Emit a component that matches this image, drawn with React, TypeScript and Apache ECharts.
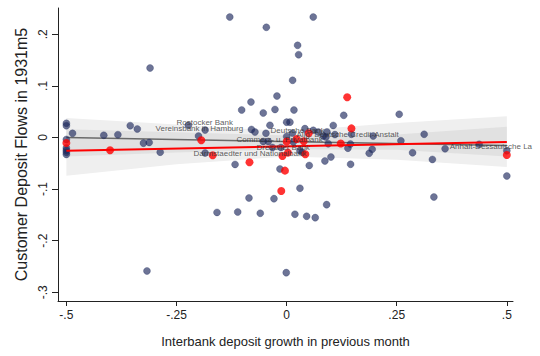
import React, { useEffect, useRef } from "react";
import * as echarts from "echarts";

const FONT = '"Liberation Sans", Arial, Helvetica, sans-serif';

const xTicks = [-0.5, -0.25, 0, 0.25, 0.5];
const xTickLabels = ["-.5", "-.25", "0", ".25", ".5"];
const yTicks = [-0.3, -0.2, -0.1, 0, 0.1, 0.2];
const yTickLabels = ["-.3", "-.2", "-.1", "0", ".1", ".2"];

const xTitle = "Interbank deposit growth in previous month";
const yTitle = "Customer Deposit Flows in 1931m5";

// all banks (navy markers)
const navyPts: [number, number][] = [
  [-0.5, 0.0275], [-0.5, 0.0229], [-0.5, -0.0039], [-0.5, -0.0203], [-0.5, -0.0248],
  [-0.5, -0.0287], [-0.5, -0.0329], [-0.486, 0.0081], [-0.415, 0.0043], [-0.383, 0.0054],
  [-0.355, 0.0229], [-0.339, 0.0165], [-0.325, -0.011], [-0.312, -0.0097], [-0.287, -0.0285],
  [-0.31, 0.1347], [-0.317, -0.2587], [-0.223, 0.0236], [-0.2, 0.0029], [-0.185, 0.0145],
  [-0.185, -0.03], [-0.117, -0.0523], [-0.129, 0.2335], [0.0605, 0.2335], [-0.046, 0.2136],
  [0.025, 0.1787], [0.0273, 0.1605], [0.0137, 0.1109], [-0.0219, 0.0804], [-0.0809, 0.0688],
  [-0.102, 0.0533], [-0.053, 0.0475], [-0.0264, 0.0543], [0.0167, 0.0533], [-0.0378, 0.0236],
  [0.0001, 0.0297], [0.0076, 0.0297], [-0.0798, 0.0155], [-0.0718, 0.0107], [-0.0469, 0.0081],
  [-0.053, -0.0078], [-0.0416, -0.0078], [-0.0321, -0.0194], [-0.0128, -0.0194], [0.0001, 0.0019],
  [0.0133, 0.0087], [0.0151, -0.0087], [0.0303, -0.0256], [0.0355, -0.0287], [0.0416, 0.0171],
  [0.0605, 0.014], [0.0718, 0.0107], [0.0916, 0.0107], [0.0832, 0.0029], [0.0893, 0.001],
  [0.1097, 0.0056], [0.1059, 0.0233], [0.1297, 0.043], [0.1472, 0.0062], [0.0945, -0.012],
  [0.1449, -0.0126], [0.1392, -0.0207], [0.1006, -0.0378], [0.087, -0.0455], [0.1453, -0.0519],
  [0.1966, 0.0029], [0.1943, -0.0229], [0.1875, -0.0306], [0.2556, 0.045], [0.2595, -0.0064],
  [0.286, -0.0295], [0.3123, 0.0062], [0.331, -0.0426], [0.3598, -0.0217], [0.4371, -0.0132],
  [0.5, -0.0256], [0.5, -0.0746], [0.3344, -0.1153], [0.0514, -0.0543], [-0.0151, -0.061],
  [0.0303, -0.0984], [-0.0854, -0.1172], [-0.0287, -0.1186], [0.0909, -0.1302], [-0.158, -0.1453],
  [-0.111, -0.1444], [-0.0598, -0.1469], [0.0189, -0.1488], [0.0455, -0.1527], [0.065, -0.1554],
  [-0.0008, -0.262],
];

// highlighted banks (red markers)
const redPts: [number, number][] = [
  [-0.5, -0.0107], [-0.4008, -0.0248], [-0.1937, -0.0054], [-0.1678, -0.0345], [-0.0843, -0.0479],
  [0.0001, -0.0078], [0.0228, -0.0029], [0.0389, -0.0074], [0.0503, 0.0081], [0.0031, -0.0293],
  [-0.0094, -0.0359], [0.0425, -0.0326], [-0.0037, -0.0643], [-0.0121, -0.1037], [0.1376, 0.0779],
  [0.1472, 0.0176], [0.1229, -0.0116], [0.5, -0.0339],
];

// fitted lines (endpoints)
const fitX = [-0.5, 0.5];
const greyFitY = [0.0, -0.0155];
const redFitY = [-0.0258, -0.0089];

// confidence bands
const bandX = [-0.5, -0.25, 0, 0.25, 0.5];
const outerLow = [-0.074, -0.052, -0.037, -0.043, -0.057];
const outerHigh = [0.038, 0.025, 0.012, 0.028, 0.041];
const innerLow = [-0.037, -0.029, -0.023, -0.024, -0.037];
const innerHigh = [0.016, 0.01, 0.004, 0.006, 0.021];

// bank labels
const labelNames = [
  "Rostocker Bank",
  "Vereinsbank in Hamburg",
  "Deutsche Bank",
  "Allg. Deutsche Credit-Anstalt",
  "Commerz- u. Privatbank",
  "Dresdner Bank",
  "Darmstaedter und Nationalbank",
  "Anhalt-Dessauische La",
];
const labelX = [-0.2511, -0.2987, -0.0378, 0.0212, -0.1149, -0.0695, -0.2125, 0.3693];
const labelY = [0.0295, 0.0171, 0.0132, 0.0062, -0.0035, -0.0198, -0.032, -0.0171];

function tickLabel(v: number, ticks: number[], labels: string[]) {
  let best = 0;
  for (let i = 1; i < ticks.length; i++) {
    if (Math.abs(ticks[i] - v) < Math.abs(ticks[best] - v)) best = i;
  }
  return labels[best];
}

function bandSeries(low: number[], high: number[], color: string) {
  return {
    type: "custom",
    data: [[bandX[0], low[0]]],
    silent: true,
    z: 1,
    renderItem: (_params: any, api: any) => {
      const pts: number[][] = [];
      for (let i = 0; i < bandX.length; i++) pts.push(api.coord([bandX[i], high[i]]));
      for (let i = bandX.length - 1; i >= 0; i--) pts.push(api.coord([bandX[i], low[i]]));
      return {
        type: "polygon",
        shape: { points: pts },
        style: { fill: color, stroke: "none" },
        silent: true,
      };
    },
  };
}

export default function App() {
  const ref = useRef<HTMLDivElement>(null);
  useEffect(() => {
    document.body.style.margin = "0";
    const chart = echarts.init(ref.current!, null, { renderer: "svg" });
    const axisColor = "#222";
    const option: any = {
      animation: false,
      backgroundColor: "#ffffff",
      textStyle: { fontFamily: FONT },
      grid: { left: 58, right: 27, top: 8, bottom: 55, containLabel: false },
      xAxis: {
        type: "value",
        min: -0.519,
        max: 0.514,
        name: xTitle,
        nameLocation: "middle",
        nameGap: 34,
        nameTextStyle: { fontSize: 13, color: "#222", fontFamily: FONT },
        axisLine: { show: true, onZero: false, lineStyle: { color: axisColor, width: 1 } },
        axisTick: { show: true, length: 5, customValues: xTicks, lineStyle: { color: axisColor } },
        axisLabel: {
          show: true,
          customValues: xTicks,
          margin: 8,
          fontSize: 12,
          color: "#222",
          fontFamily: FONT,
          formatter: (v: number) => tickLabel(v, xTicks, xTickLabels),
        },
        splitLine: { show: false },
      },
      yAxis: {
        type: "value",
        min: -0.317,
        max: 0.251,
        name: yTitle,
        nameLocation: "middle",
        nameGap: 27,
        nameTextStyle: { fontSize: 16, color: "#222", fontFamily: FONT },
        axisLine: { show: true, onZero: false, lineStyle: { color: axisColor, width: 1 } },
        axisTick: { show: true, length: 6, customValues: yTicks, lineStyle: { color: axisColor } },
        axisLabel: {
          show: true,
          customValues: yTicks,
          rotate: 90,
          margin: 9,
          fontSize: 12,
          color: "#222",
          fontFamily: FONT,
          formatter: (v: number) => tickLabel(v, yTicks, yTickLabels),
        },
        splitLine: { show: false },
      },
      series: [
        bandSeries(outerLow, outerHigh, "#efefef"),
        bandSeries(innerLow, innerHigh, "#e1e1e1"),
        {
          type: "line",
          data: fitX.map((x, i) => [x, greyFitY[i]]),
          symbol: "none",
          lineStyle: { color: "#6a6a6a", width: 1.5 },
          silent: true,
          z: 2,
        },
        {
          type: "scatter",
          data: navyPts,
          symbol: "circle",
          symbolSize: 7,
          itemStyle: {
            color: "rgba(26,38,90,0.8)",
            borderColor: "rgba(26,38,90,0.35)",
            borderWidth: 1,
          },
          z: 3,
        },
        {
          type: "line",
          data: fitX.map((x, i) => [x, redFitY[i]]),
          symbol: "none",
          lineStyle: { color: "#ff0000", width: 2 },
          silent: true,
          z: 4,
        },
        {
          type: "scatter",
          data: redPts,
          symbol: "circle",
          symbolSize: 8,
          itemStyle: { color: "#ff0000" },
          z: 5,
        },
        {
          type: "scatter",
          data: labelNames.map((n, i) => ({ name: n, value: [labelX[i], labelY[i]] })),
          symbol: "circle",
          symbolSize: 1,
          itemStyle: { color: "rgba(0,0,0,0)" },
          label: {
            show: true,
            position: "right",
            distance: 0,
            formatter: (p: any) => p.name,
            fontSize: 8,
            color: "#333",
            fontFamily: FONT,
          },
          silent: true,
          z: 6,
        },
      ],
    };
    chart.setOption(option);
    return () => chart.dispose();
  }, []);
  return <div ref={ref} style={{ width: 540, height: 356 }} />;
}
